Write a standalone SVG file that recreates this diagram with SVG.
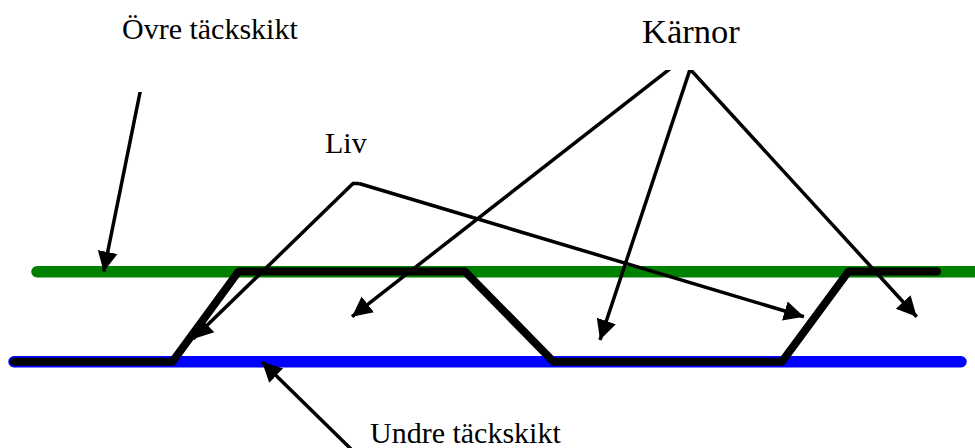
<svg xmlns="http://www.w3.org/2000/svg" width="975" height="448" viewBox="0 0 975 448">
<style>
text{font-family:"Liberation Serif","Times New Roman",serif;fill:#000}
.t{font-size:30px}
.k{font-size:34.500px}
.a{fill:none;stroke:#000;stroke-width:3.500;marker-end:url(#h)}
.layer{fill:none;stroke-width:11.500;stroke-linecap:round}
</style>
<defs>
<marker id="h" markerUnits="userSpaceOnUse" markerWidth="24" markerHeight="24" refX="20" refY="12" orient="auto"><path d="M0 2L20 12L0 22z" fill="#000"/></marker>
<clipPath id="c1"><rect x="0" y="70" width="975" height="378"/></clipPath>
<clipPath id="c2"><rect x="0" y="92" width="975" height="356"/></clipPath>
</defs>
<rect width="975" height="448" fill="#fff"/>
<g id="layers">
<path id="upper" class="layer" stroke="#008000" d="M37 271.700H985"/>
<path id="lower" class="layer" stroke="#0000ff" d="M14 361.700H961"/>
<path id="web" fill="none" stroke="#000" stroke-width="8" stroke-linecap="round" stroke-linejoin="round" d="M14 361.700H172.500L238.500 271.500H465L553.500 361.700H782L848.500 271.500H937"/>
</g>
<g id="connectors">
<path class="a" clip-path="url(#c2)" d="M140.500 90L103.700 271.700"/>
<path class="a" d="M359 183.500L804 316.700"/>
<path class="a" d="M359 183.500H353L193 339"/>
<g clip-path="url(#c1)">
<path class="a" d="M671 68L352 316.700"/>
<path class="a" d="M690.500 68L600 340"/>
<path class="a" d="M689 68L916.700 316.700"/>
</g>
<path class="a" d="M352 450L262 361.700"/>
</g>
<g id="n1"><text class="t" x="122" y="39">Övre täckskikt</text></g>
<g id="n2"><text class="k" x="642" y="43">Kärnor</text></g>
<g id="n3"><text class="t" x="325" y="152.500">Liv</text></g>
<g id="n4"><text class="t" x="370" y="443">Undre täckskikt</text></g>
</svg>
